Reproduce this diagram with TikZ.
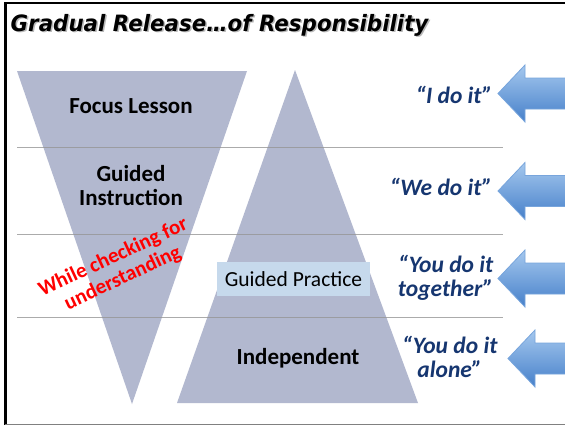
\documentclass[tikz,border=0pt]{standalone}
\usepackage{fontspec}
\setmainfont{Carlito}
\newfontfamily\titlefont{DejaVu Sans}
\definecolor{tri}{RGB}{178,184,207}
\definecolor{gpbox}{RGB}{198,217,236}
\definecolor{sayblue}{RGB}{22,54,112}
\definecolor{arrtop}{RGB}{165,200,238}
\definecolor{arrbot}{RGB}{70,128,202}
\definecolor{arredge}{RGB}{120,165,220}
\definecolor{rule}{RGB}{150,150,150}
\tikzset{
  stage/.style={font=\fontsize{23}{24}\selectfont\bfseries, align=center, text=black},
  saying/.style={font=\fontsize{23.5}{24}\selectfont\bfseries\itshape, align=center, text=sayblue},
  barrow/.style={top color=arrtop, bottom color=arrbot, draw=arredge, line width=0.8pt},
  sep/.style={draw=rule, line width=1pt, opacity=0.8}
}
\newcommand{\bluearrow}[2]{%
  \path[barrow] (#1,#2) -- (#1+27,#2-28.5) -- (#1+27,#2-15.5) -- (567,#2-15.5)
     -- (567,#2+15.5) -- (#1+27,#2+15.5) -- (#1+27,#2+28.5) -- cycle;}
\newcommand{\titletext}{\scalebox{0.95}[1]{Gradual Release…of Responsibility}}
\begin{document}
\begin{tikzpicture}[x=1pt,y=-1pt]
\useasboundingbox (0,0) rectangle (565,426);
\fill[white] (0,0) rectangle (565,426);
% frame
\draw[black, line width=3pt] (5,2) -- (5,425);
\draw[black, line width=2.5pt] (4,3) -- (566,3);
\draw[gray, line width=1.5pt] (5,424.5) -- (566,424.5);
% title with shadow
\node[anchor=base west, inner sep=0pt, text=gray!55, font=\titlefont\fontsize{22.5}{24}\selectfont\bfseries\itshape] (titleshadow) at (12,32.5) {\titletext};
\node[anchor=base west, inner sep=0pt, text=black, font=\titlefont\fontsize{22.5}{24}\selectfont\bfseries\itshape] (title) at (10.5,31) {\titletext};
% triangles
\fill[tri] (17,71) -- (247,71) -- (132,404) -- cycle;
\fill[tri] (295,70) -- (418,403) -- (177,403) -- cycle;
% separators
\draw[sep] (17,147) -- (503,147);
\draw[sep] (17,234) -- (503,234);
\draw[sep] (17,317) -- (503,317);
% stage labels
\node[stage] (focus) at (131,106) {Focus Lesson};
\node[stage] (guidedinst) at (131,186) {Guided\\Instruction};
\node[stage] (indep) at (298,358) {Independent};
\node[fill=gpbox, minimum width=153pt, minimum height=34pt, inner sep=0pt,
      font=\fontsize{21.5}{22}\selectfont] (gp) at (293.5,279) {Guided Practice};
% red note
\node[font=\fontsize{21}{23}\selectfont\bfseries, text=red, align=center, rotate=25] (check) at (118,268) {While checking for\\understanding};
% sayings
\node[saying, anchor=east] (ido) at (496,95) {“I do it”};
\node[saying, anchor=east] (wedo) at (496,187) {“We do it”};
\node[saying, anchor=east] (together) at (497,278) {“You do it\\together”};
\node[saying, anchor=east] (alone) at (501,357) {“You do it\\alone”};
% arrows
\bluearrow{498}{93.5}
\bluearrow{498}{191}
\bluearrow{498}{278.5}
\bluearrow{508}{358.5}
\end{tikzpicture}
\end{document}
